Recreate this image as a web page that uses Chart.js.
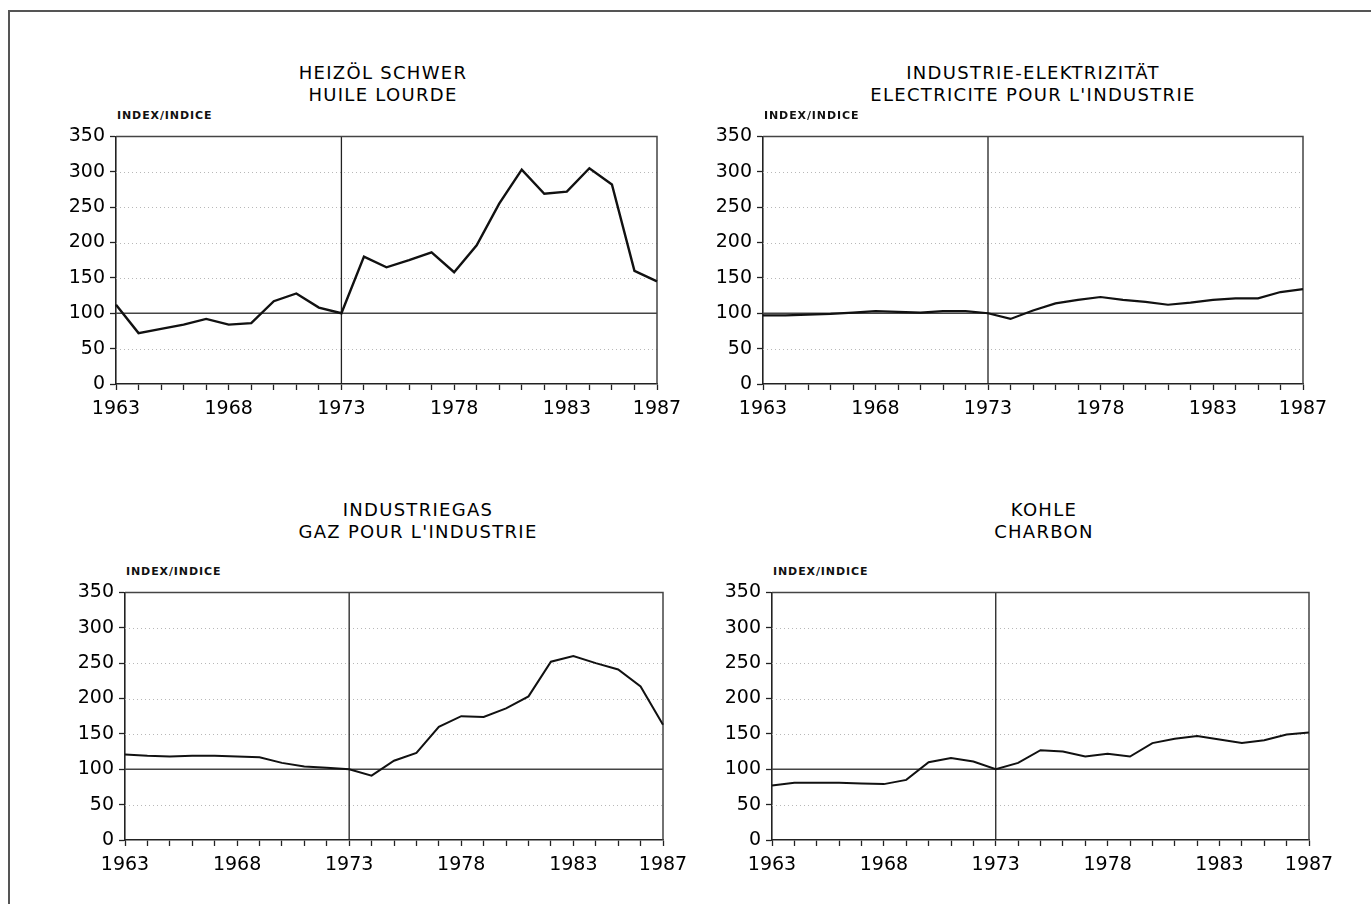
<!DOCTYPE html>
<html>
<head>
<meta charset="utf-8">
<script src="https://cdn.jsdelivr.net/npm/chart.js@4.4.1/dist/chart.umd.min.js"></script>
<style>
  html, body { margin: 0; padding: 0; background: #fff; }
  #page { position: relative; width: 1371px; height: 904px; overflow: hidden; background: #fff;
          font-family: "DejaVu Sans", "Liberation Sans", Arial, sans-serif; color: #000; }
  #frame { position: absolute; left: 8px; top: 10px; width: 1400px; height: 1000px;
           border-top: 2px solid #555; border-left: 2px solid #555; }
  .title { position: absolute; width: 560px; text-align: center; font-size: 18px;
           letter-spacing: 1.3px; line-height: 22px; color: #000; }
  .unit { position: absolute; font-size: 11px; font-weight: bold; letter-spacing: 0.9px;
          line-height: 14px; color: #111; }
  canvas { position: absolute; }
</style>
</head>
<body>
<div id="page">
  <div id="frame"></div>
</div>
<script>
// ---- data ----
const years = ['1963','1964','1965','1966','1967','1968','1969','1970','1971','1972','1973','1974','1975',
               '1976','1977','1978','1979','1980','1981','1982','1983','1984','1985','1986','1987'];
const xTickLabels = ['1963','1968','1973','1978','1983','1987'];
const heizoel = [112,72,78,84,92,84,86,117,128,108,100,180,165,175,186,158,196,255,303,269,272,305,282,160,145];
const elektrizitaet = [97,97,98,99,101,103,102,101,103,103,100,92,104,114,119,123,119,116,112,115,119,121,121,130,134];
const industriegas = [121,119,118,119,119,118,117,109,104,102,100,91,112,123,160,175,174,186,203,252,260,250,241,217,163];
const kohle = [77,81,81,81,80,79,85,110,116,111,100,109,127,125,118,122,118,137,143,147,142,137,141,149,152];
const dottedGrid = [50,150,200,250,300];
const baseValue = 100;
const baseYear = '1973';
const yMin = 0, yMax = 350, yStep = 50;
const unitLabel = 'INDEX/INDICE';

const panels = [
  { title: ['HEIZÖL SCHWER','HUILE LOURDE'], data: heizoel, plot: [116,657,131,384], titleX: 383, titleY: 62, lw: 2.4 },
  { title: ['INDUSTRIE-ELEKTRIZITÄT','ELECTRICITE POUR L\'INDUSTRIE'], data: elektrizitaet, plot: [763,1303,131,384], titleX: 1033, titleY: 62, lw: 2.2 },
  { title: ['INDUSTRIEGAS','GAZ POUR L\'INDUSTRIE'], data: industriegas, plot: [125,663,587,840], titleX: 418, titleY: 499, lw: 2.0 },
  { title: ['KOHLE','CHARBON'], data: kohle, plot: [772,1309,587,840], titleX: 1044, titleY: 499, lw: 2.0 }
];

const Y_W = 80, X_H = 50, PAD_T = 11, PAD_R = 33;
const tickFont = { family: '"DejaVu Sans", "Liberation Sans", Arial, sans-serif', size: 19 };

const gridPlugin = {
  id: 'refGrid',
  beforeDatasetsDraw(chart) {
    const { ctx, chartArea: a, scales: { x, y } } = chart;
    ctx.save();
    ctx.strokeStyle = '#b8b8b8';
    ctx.lineWidth = 1;
    ctx.setLineDash([1, 3]);
    dottedGrid.forEach(v => {
      const py = Math.round(y.getPixelForValue(v)) + 0.5;
      ctx.beginPath(); ctx.moveTo(a.left, py); ctx.lineTo(a.right, py); ctx.stroke();
    });
    ctx.setLineDash([]);
    ctx.strokeStyle = '#444';
    ctx.lineWidth = 1.3;
    const p100 = y.getPixelForValue(baseValue);
    ctx.beginPath(); ctx.moveTo(a.left, p100); ctx.lineTo(a.right, p100); ctx.stroke();
    ctx.strokeStyle = '#222';
    ctx.lineWidth = 1.3;
    const px = x.getPixelForValue(years.indexOf(baseYear));
    ctx.beginPath(); ctx.moveTo(px, y.getPixelForValue(yMax)); ctx.lineTo(px, y.getPixelForValue(yMin)); ctx.stroke();
    ctx.strokeStyle = '#444';
    ctx.lineWidth = 1.5;
    ctx.beginPath();
    ctx.moveTo(a.left, y.getPixelForValue(yMax));
    ctx.lineTo(a.right, y.getPixelForValue(yMax));
    ctx.lineTo(a.right, y.getPixelForValue(yMin));
    ctx.stroke();
    ctx.restore();
  }
};

const page = document.getElementById('page');

panels.forEach((p) => {
  const [pl, pr, pt, pb] = p.plot;
  const cw = pr - pl + Y_W + PAD_R;
  const ch = pb - pt + PAD_T + X_H;
  const cl = pl - Y_W, ctp = pt - PAD_T;

  const t = document.createElement('div');
  t.className = 'title';
  t.style.left = (p.titleX - 280) + 'px';
  t.style.top = p.titleY + 'px';
  p.title.forEach((s, k) => {
    if (k) t.appendChild(document.createElement('br'));
    t.appendChild(document.createTextNode(s));
  });
  page.appendChild(t);

  const u = document.createElement('div');
  u.className = 'unit';
  u.style.left = (pl + 1) + 'px';
  u.style.top = (pt - 22) + 'px';
  u.textContent = unitLabel;
  page.appendChild(u);

  const c = document.createElement('canvas');
  c.width = cw; c.height = ch;
  c.style.width = cw + 'px'; c.style.height = ch + 'px';
  c.style.left = cl + 'px'; c.style.top = ctp + 'px';
  page.appendChild(c);

  new Chart(c, {
    type: 'line',
    data: {
      labels: years,
      datasets: [{
        data: p.data,
        borderColor: '#111',
        borderWidth: p.lw,
        pointRadius: 0,
        tension: 0,
        fill: false
      }]
    },
    options: {
      responsive: false,
      animation: false,
      devicePixelRatio: 1,
      layout: { padding: { top: PAD_T, right: PAD_R, left: 0, bottom: 0 } },
      plugins: { legend: { display: false }, tooltip: { enabled: false } },
      scales: {
        x: {
          type: 'category',
          offset: false,
          afterFit(s) { s.height = X_H; },
          grid: { drawOnChartArea: false, drawTicks: true, tickLength: 6, tickColor: '#222', tickWidth: 1.3 },
          border: { color: '#222', width: 1.6 },
          ticks: {
            autoSkip: false, maxRotation: 0, minRotation: 0, padding: 8,
            color: '#000',
            font: tickFont,
            callback(val) {
              const l = this.getLabelForValue(val);
              return xTickLabels.includes(l) ? l : '';
            }
          }
        },
        y: {
          min: yMin, max: yMax,
          afterFit(s) { s.width = Y_W; },
          grid: { drawOnChartArea: false, drawTicks: true, tickLength: 6, tickColor: '#222', tickWidth: 1.3 },
          border: { color: '#222', width: 1.6 },
          ticks: {
            stepSize: yStep, padding: 5, color: '#000',
            font: tickFont
          }
        }
      }
    },
    plugins: [gridPlugin]
  });
});
</script>
</body>
</html>
